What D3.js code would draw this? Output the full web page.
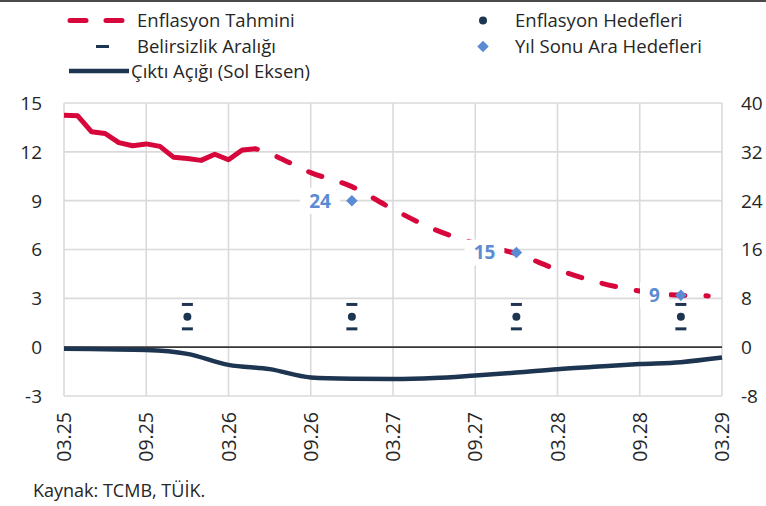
<!DOCTYPE html>
<meta charset="utf-8">
<head>
  <meta charset="utf-8">
  <title>Enflasyon tahmini ve cikti acigi</title>
</head>

<style>
body {margin:0; background:#fff;}
text {font-family: "Open Sans", sans-serif; fill: #262626;}
.grid line {stroke: #dadada; stroke-width: 1.6px;}
.actual {fill: none; stroke: #d7063b; stroke-width: 5px; stroke-linejoin: round;}
.forecast {fill: none; stroke: #d7063b; stroke-width: 5px; stroke-dasharray: 14,21; stroke-linecap: round;}
.gap {fill: none; stroke: #1d3550; stroke-width: 4.5px; stroke-linejoin: round;}
</style>

<body>
<script src="https://d3js.org/d3.v7.min.js"></script>
<script>

// ---- data ----
var tickLabels = ["03.25","09.25","03.26","09.26","03.27","09.27","03.28","09.28","03.29"];
var leftTicks = [15, 12, 9, 6, 3, 0, -3];
var rightTicks = [40, 32, 24, 16, 8, 0, -8];

// realised annual CPI (right axis)
var actualMonths = ["03.25","04.25","05.25","06.25","07.25","08.25","09.25","10.25","11.25","12.25","01.26","02.26","03.26","04.26","05.26"];
var actualInfl   = [38.0, 37.9, 35.3, 35.0, 33.5, 33.0, 33.3, 32.9, 31.1, 30.9, 30.6, 31.6, 30.7, 32.3, 32.5];

// inflation forecast (right axis)
var forecastMonths = ["05.26","06.26","09.26","12.26","03.27","06.27","09.27","12.27","03.28","06.28","09.28","12.28","02.29"];
var forecastInfl   = [32.5, 31.7, 28.6, 26.3, 22.6, 19.3, 17.0, 15.3, 12.7, 10.6, 9.2, 8.5, 8.4];

// output gap (left axis)
var gapMonths = ["03.25","06.25","09.25","12.25","03.26","06.26","09.26","12.26","03.27","06.27","09.27","12.27","03.28","06.28","09.28","12.28","03.29"];
var gapValues = [-0.10, -0.13, -0.17, -0.41, -1.09, -1.35, -1.86, -1.94, -1.96, -1.90, -1.74, -1.56, -1.35, -1.19, -1.04, -0.92, -0.64];

// inflation targets and uncertainty band (right axis)
var targetMonths = ["12.25","12.26","12.27","12.28"];
var targetValues = [5, 5, 5, 5];
var bandLow  = [3, 3, 3, 3];
var bandHigh = [7, 7, 7, 7];

// year-end interim targets (right axis)
var interimMonths = ["12.26","12.27","12.28"];
var interimValues = [24, 15.5, 8.5];
var interimLabels = ["24", "15", "9"];

// ---- helpers ----
function monthIndex(s) {
  var p = s.split(".");
  return (+p[1] - 25) * 12 + (+p[0] - 3);
}

var svg = d3.select("body").append("svg")
    .attr("width", 766)
    .attr("height", 506);

var x = d3.scaleLinear().domain([0, 48]).range([64, 722]);
var yL = d3.scaleLinear().domain([-3, 15]).range([396, 103]);
var yR = d3.scaleLinear().domain([-8, 40]).range([396, 103]);

// top rule
svg.append("line")
    .attr("x1", 0).attr("x2", 766).attr("y1", 1).attr("y2", 1)
    .attr("stroke", "#4a4a4a").attr("stroke-width", 2);

// grid
var grid = svg.append("g").attr("class", "grid");
grid.selectAll(".v").data(tickLabels).enter().append("line")
    .attr("x1", function(d) { return x(monthIndex(d)); })
    .attr("x2", function(d) { return x(monthIndex(d)); })
    .attr("y1", yL(15)).attr("y2", yL(-3));
grid.selectAll(".h").data(leftTicks).enter().append("line")
    .attr("x1", x(0)).attr("x2", x(48))
    .attr("y1", function(d) { return yL(d); })
    .attr("y2", function(d) { return yL(d); });

// zero line
svg.append("line")
    .attr("x1", x(0)).attr("x2", x(48))
    .attr("y1", yL(0)).attr("y2", yL(0))
    .attr("stroke", "#3a3a3a").attr("stroke-width", 1.6);

// left axis labels
svg.selectAll(".ly").data(leftTicks).enter().append("text")
    .attr("x", 42).attr("y", function(d) { return yL(d); })
    .attr("dy", "0.36em").attr("text-anchor", "end")
    .style("font-size", "19px")
    .text(function(d) { return d; });

// right axis labels
svg.selectAll(".ry").data(rightTicks).enter().append("text")
    .attr("x", 741).attr("y", function(d) { return yR(d); })
    .attr("dy", "0.36em").attr("text-anchor", "start")
    .style("font-size", "19px")
    .text(function(d) { return d; });

// x labels, rotated
svg.selectAll(".xl").data(tickLabels).enter().append("text")
    .attr("transform", function(d) { return "translate(" + x(monthIndex(d)) + ",412) rotate(-90)"; })
    .attr("dy", "0.36em").attr("text-anchor", "end")
    .style("font-size", "19.5px")
    .text(function(d) { return d; });

// output gap
var gapLine = d3.line()
    .x(function(d, i) { return x(monthIndex(gapMonths[i])); })
    .y(function(d) { return yL(d); })
    .curve(d3.curveMonotoneX);
svg.append("path").datum(gapValues).attr("class", "gap").attr("d", gapLine);

// inflation actual + forecast
var actualLine = d3.line()
    .x(function(d, i) { return x(monthIndex(actualMonths[i])); })
    .y(function(d) { return yR(d); });
svg.append("path").datum(actualInfl).attr("class", "actual").attr("d", actualLine);

var forecastLine = d3.line()
    .x(function(d, i) { return x(monthIndex(forecastMonths[i])); })
    .y(function(d) { return yR(d); })
    .curve(d3.curveMonotoneX);
svg.append("path").datum(forecastInfl).attr("class", "forecast")
    .attr("stroke-dashoffset", 12.5)
    .attr("d", forecastLine);

// uncertainty band marks and target dots
var navy = "#1d3550";
targetMonths.forEach(function(m, i) {
  var cx = x(monthIndex(m));
  [bandLow[i], bandHigh[i]].forEach(function(v) {
    svg.append("line")
        .attr("x1", cx - 5.5).attr("x2", cx + 5.5)
        .attr("y1", yR(v)).attr("y2", yR(v))
        .attr("stroke", navy).attr("stroke-width", 3);
  });
  svg.append("circle").attr("cx", cx).attr("cy", yR(targetValues[i])).attr("r", 4).attr("fill", navy);
});

// interim target labels with white boxes, then diamonds
var blue = "#5b8bd3";
var diamond = d3.symbol().type(d3.symbolDiamond2).size(85);
interimMonths.forEach(function(m, i) {
  var cx = x(monthIndex(m)), cy = yR(interimValues[i]);
  var box = svg.append("rect").attr("fill", "#fff");
  var t = svg.append("text")
      .attr("x", cx - 21).attr("y", cy)
      .attr("dy", "0.36em").attr("text-anchor", "end")
      .style("font-size", "19px").style("font-weight", "700").style("fill", blue)
      .text(interimLabels[i]);
  var bb = t.node().getBBox();
  box.attr("x", bb.x - 9).attr("y", cy - 13).attr("width", bb.width + 18).attr("height", 26);
  svg.append("path").attr("d", diamond)
      .attr("transform", "translate(" + cx + "," + cy + ")")
      .attr("fill", blue);
});

// legend
var leg = svg.append("g");
leg.append("line").attr("x1", 70).attr("x2", 124).attr("y1", 20.5).attr("y2", 20.5)
    .attr("class", "forecast").attr("stroke-dashoffset", 0).style("stroke-dasharray", "16,20");
leg.append("line").attr("x1", 96).attr("x2", 109).attr("y1", 46.5).attr("y2", 46.5)
    .attr("stroke", navy).attr("stroke-width", 3);
leg.append("line").attr("x1", 69).attr("x2", 129).attr("y1", 71).attr("y2", 71)
    .attr("stroke", navy).attr("stroke-width", 4.5);
leg.append("circle").attr("cx", 483).attr("cy", 20.5).attr("r", 4).attr("fill", navy);
leg.append("path").attr("d", diamond).attr("transform", "translate(483,46.5)").attr("fill", blue);

var legendItems = [
  {label: "Enflasyon Tahmini", x: 137, y: 20.5},
  {label: "Belirsizlik Aralığı", x: 137, y: 46},
  {label: "Çıktı Açığı (Sol Eksen)", x: 131, y: 71.5},
  {label: "Enflasyon Hedefleri", x: 515, y: 20.5},
  {label: "Yıl Sonu Ara Hedefleri", x: 515, y: 46}
];
leg.selectAll("text").data(legendItems).enter().append("text")
    .attr("x", function(d) { return d.x; })
    .attr("y", function(d) { return d.y; })
    .attr("dy", "0.36em")
    .style("font-size", "18.5px")
    .text(function(d) { return d.label; });

// source note
svg.append("text")
    .attr("x", 33).attr("y", 491).attr("dy", "0.36em")
    .style("font-size", "18px")
    .text("Kaynak: TCMB, TÜİK.");

</script>
</body>
